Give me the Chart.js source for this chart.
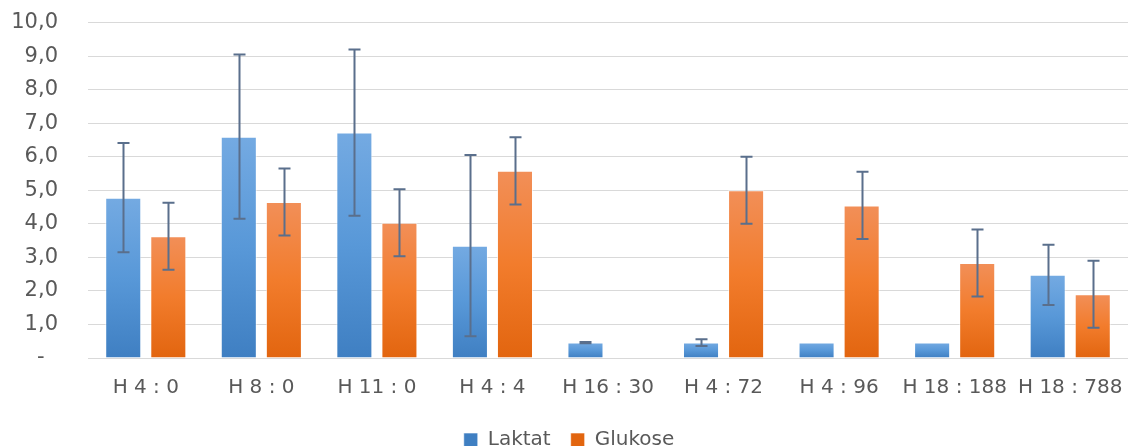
<!DOCTYPE html>
<html>
<head>
<meta charset="utf-8">
<script src="https://cdn.jsdelivr.net/npm/chart.js@4.4.1/dist/chart.umd.min.js"></script>
<style>
  html, body { margin: 0; padding: 0; background: #fff; overflow: hidden; }
  #wrap { width: 1128px; height: 480px; margin-top: -20px; }
</style>
</head>
<body>
<div id="wrap"><canvas id="chart"></canvas></div>
<script>
// categories and values
let labels = ["H 4 : 0", "H 8 : 0", "H 11 : 0", "H 4 : 4", "H 16 : 30", "H 4 : 72", "H 4 : 96", "H 18 : 188", "H 18 : 788"];

let laktat = [4.78, 6.6, 6.72, 3.35, 0.46, 0.46, 0.46, 0.46, 2.48];
let laktatErr = [1.63, 2.45, 2.48, 2.7, 0.02, 0.1, null, null, 0.9];

let glukose = [3.63, 4.65, 4.03, 5.58, null, 5.0, 4.55, 2.83, 1.9];
let glukoseErr = [1.0, 1.0, 1.0, 1.0, null, 1.0, 1.0, 1.0, 1.0];

let yTicks = [0, 1, 2, 3, 4, 5, 6, 7, 8, 9, 10];

// vertical gradient per bar, light at top, dark at bottom
function barFill(top, mid, bottom){
    return function(context){
        let chart = context.chart;
        if(!chart.chartArea || context.raw == null){
            return mid;
        }
        let y = chart.scales.y;
        let g = chart.ctx.createLinearGradient(0, y.getPixelForValue(context.raw), 0, y.getPixelForValue(0));
        g.addColorStop(0, top);
        g.addColorStop(0.5, mid);
        g.addColorStop(1, bottom);
        return g;
    };
}

// error bars drawn from the scale
let errorBars = {
    id: "errorBars",
    afterDatasetsDraw: function(chart){
        let ctx = chart.ctx;
        let y = chart.scales.y;
        let errs = [laktatErr, glukoseErr];
        ctx.save();
        ctx.strokeStyle = "#5a6f8c";
        ctx.lineWidth = 2;
        chart.data.datasets.forEach(function(ds, i){
            let meta = chart.getDatasetMeta(i);
            meta.data.forEach(function(bar, j){
                let v = ds.data[j];
                let e = errs[i][j];
                if(v == null || e == null){
                    return;
                }
                let yt = y.getPixelForValue(v + e);
                let yb = y.getPixelForValue(v - e);
                let x = Math.round(bar.x) + 0.5;
                ctx.beginPath();
                ctx.moveTo(x, yt);
                ctx.lineTo(x, yb);
                ctx.moveTo(x - 6, yt);
                ctx.lineTo(x + 6, yt);
                ctx.moveTo(x - 6, yb);
                ctx.lineTo(x + 6, yb);
                ctx.stroke();
            });
        });
        ctx.restore();
    }
};

let font = "'DejaVu Sans', Verdana, sans-serif";

new Chart(document.getElementById("chart"), {
    type: "bar",
    data: {
        labels: labels,
        datasets: [{
            label: "Laktat",
            data: laktat,
            backgroundColor: barFill("#74aae2", "#5898d8", "#3f7fc2"),
            borderColor: "rgba(255,255,255,0.6)",
            borderWidth: 1
        }, {
            label: "Glukose",
            data: glukose,
            backgroundColor: barFill("#f28f58", "#f27c2c", "#e2650f"),
            borderColor: "rgba(255,255,255,0.6)",
            borderWidth: 1
        }]
    },
    options: {
        responsive: true,
        maintainAspectRatio: false,
        animation: false,
        categoryPercentage: 0.78,
        barPercentage: 0.8,
        layout: {
            padding: { top: -4, right: 0, left: 10, bottom: 0 }
        },
        plugins: {
            tooltip: { enabled: false },
            legend: {
                position: "bottom",
                labels: {
                    color: "#595959",
                    font: { family: font, size: 20 },
                    boxWidth: 14,
                    boxHeight: 14,
                    padding: 20
                }
            }
        },
        scales: {
            x: {
                grid: { display: false },
                border: { color: "#d9d9d9", width: 1 },
                afterFit: function(axis){
                    axis.paddingRight = 0;
                    axis.paddingLeft = 0;
                },
                ticks: {
                    color: "#595959",
                    font: { family: font, size: 20 },
                    padding: 10,
                    maxRotation: 0,
                    autoSkip: false
                }
            },
            y: {
                min: 0,
                max: 10,
                afterBuildTicks: function(axis){
                    axis.ticks = yTicks.map(function(v){ return { value: v }; });
                },
                afterFit: function(axis){
                    axis.width = 78;
                },
                grid: { color: "#d9d9d9", lineWidth: 1, drawTicks: false },
                border: { display: false },
                ticks: {
                    color: "#595959",
                    font: { family: font, size: 21 },
                    padding: 30,
                    callback: function(value){
                        if(value === 0){
                            return "-  ";
                        }
                        return value.toFixed(1).replace(".", ",");
                    }
                }
            }
        }
    },
    plugins: [errorBars]
});
</script>
</body>
</html>
